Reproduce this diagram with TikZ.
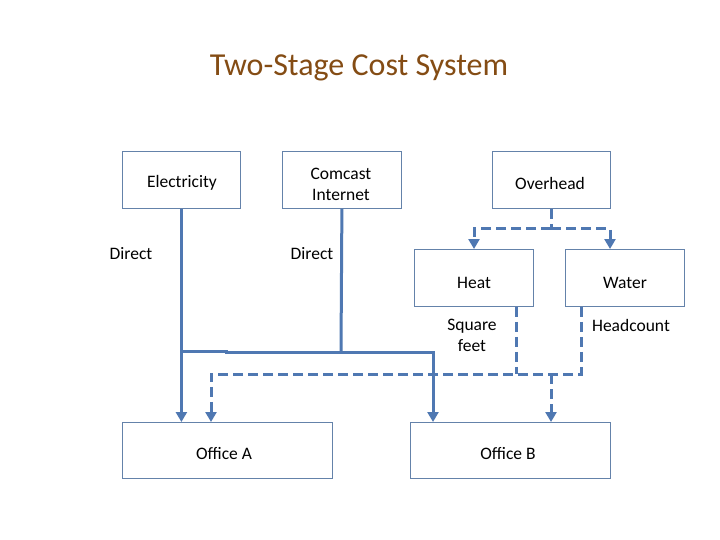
\documentclass[tikz,border=0pt]{standalone}
\usepackage{fontspec}
\setmainfont{Carlito}
\usetikzlibrary{arrows.meta}
\definecolor{titlebrown}{RGB}{132,76,20}
\definecolor{linkblue}{RGB}{79,120,178}
\definecolor{boxedge}{RGB}{100,130,170}
\tikzset{
  box/.style={draw=boxedge, line width=0.8pt, inner sep=0pt, anchor=north west},
  lbl/.style={font=\fontsize{17.5}{21}\selectfont, align=center, inner sep=0pt},
  link/.style={draw=linkblue, line width=3pt, -{Triangle[length=10pt,width=11pt]}},
  plain/.style={draw=linkblue, line width=3pt},
  dlink/.style={draw=linkblue, line width=3pt, dash pattern=on 10pt off 5pt, -{Triangle[length=10pt,width=11pt]}},
  dplain/.style={draw=linkblue, line width=3pt, dash pattern=on 10pt off 5pt},
}
\begin{document}
\begin{tikzpicture}[x=1pt,y=-1pt]
\useasboundingbox[fill=white] (0,0) rectangle (720,540);
% title
\node[font=\fontsize{32}{38}\selectfont, text=titlebrown, inner sep=0pt] (title) at (359,68) {Two-Stage Cost System};
% boxes
\node[box, minimum width=118pt, minimum height=57pt] (elec) at (122,151) {};
\node[box, minimum width=119pt, minimum height=57pt] (comc) at (282,151) {};
\node[box, minimum width=118pt, minimum height=57pt] (over) at (492,151) {};
\node[box, minimum width=119pt, minimum height=57pt] (heat) at (414,249) {};
\node[box, minimum width=119pt, minimum height=57pt] (water) at (565,249) {};
\node[box, minimum width=210pt, minimum height=56pt] (offA) at (122,422) {};
\node[box, minimum width=200pt, minimum height=56pt] (offB) at (410,422) {};
% box texts
\node[lbl] (telec) at (182,183) {Electricity};
\node[lbl] (tcomc) at (341,184) {Comcast\\Internet};
\node[lbl] (tover) at (550,183) {Overhead};
\node[lbl] (theat) at (474,283) {Heat};
\node[lbl] (twater) at (625,283) {Water};
\node[lbl] (toffA) at (224,454) {Office A};
\node[lbl] (toffB) at (508,454) {Office B};
% free labels
\node[lbl] (d1) at (131,254) {Direct};
\node[lbl] (d2) at (312,254) {Direct};
\node[lbl] (sq) at (472,335) {Square\\feet};
\node[lbl] (hc) at (631,325) {Headcount};
% junction coordinates
\coordinate (ja) at (181,351);
\coordinate (jb) at (341,352);
\coordinate (jc) at (433,352);
\coordinate (oh) at (551,229);
\coordinate (ohL) at (474,229);
\coordinate (ohR) at (610,229);
\coordinate (hs) at (516,374);
\coordinate (ws) at (581,374);
\coordinate (dl) at (211,374);
\coordinate (dr) at (551,374);
% solid direct links
\draw[link] (elec.south) -- (elec.south |- offA.north);
\draw[link] (ja) -- (226,351) -- (226,352) -- (jc) -- (jc |- offB.north);
\draw[plain] (comc.south) -- (jb);
% overhead dashed
\draw[dplain] (over.south -| oh) -- (oh);
\draw[dlink] (oh) -- (ohL) -- (ohL |- heat.north);
\draw[dlink] (oh) -- (ohR) -- (ohR |- water.north);
% second stage dashed
\draw[dplain] (hs |- heat.south) -- (hs);
\draw[dlink] (ws |- water.south) -- (ws) -- (dl) -- (dl |- offA.north);
\draw[dlink] (dr) -- (dr |- offB.north);
\end{tikzpicture}
\end{document}
